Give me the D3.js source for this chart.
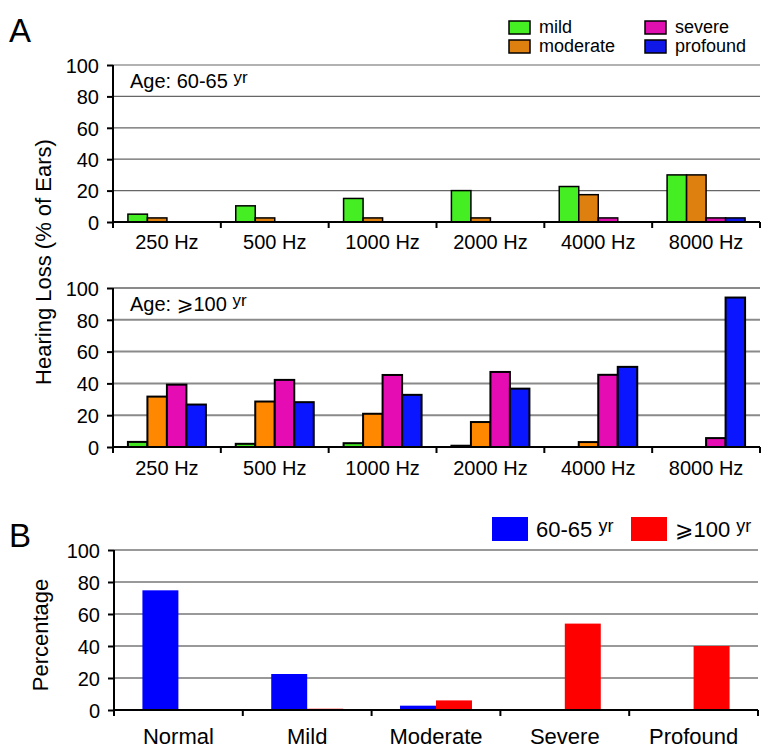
<!DOCTYPE html>
<html>
<head>
<meta charset="utf-8">
<script src="https://d3js.org/d3.v7.min.js"></script>
<style>
  body { margin: 0; background: #fff; }
  svg text { font-family: "Liberation Sans", Arial, Helvetica, "DejaVu Sans", sans-serif; fill: #000; }
</style>
</head>
<body>
<svg id="fig" width="768" height="755"></svg>
<script>
// ---- data ----
var freqs = ['250 Hz', '500 Hz', '1000 Hz', '2000 Hz', '4000 Hz', '8000 Hz'];
var grades = ['mild', 'moderate', 'severe', 'profound'];

// panel A, age 60-65 yr (% of ears)
var mild60     = [5, 10.3, 15, 20, 22.6, 30];
var moderate60 = [2.6, 2.6, 2.6, 2.6, 17.4, 30];
var severe60   = [0, 0, 0, 0, 2.6, 2.6];
var profound60 = [0, 0, 0, 0, 0, 2.6];

// panel A, age >=100 yr
var mild100     = [3.2, 2, 2.4, 0.8, 0, 0];
var moderate100 = [31.7, 28.6, 20.9, 15.7, 3.1, 0];
var severe100   = [39.2, 42.2, 45.3, 47.2, 45.4, 5.6];
var profound100 = [26.7, 28.2, 32.8, 36.7, 50.4, 94];

// panel B
var levels  = ['Normal', 'Mild', 'Moderate', 'Severe', 'Profound'];
var groupsB = ['60-65 yr', '100 yr'];
var pct60   = [74.8, 22.5, 2.7, 0, 0];
var pct100  = [0, 0.8, 6, 54, 40];

var yTicks = [0, 20, 40, 60, 80, 100];

var svg = d3.select('#fig');

function rows(cols, keys) {
  // build [{i, key, value}] from the named arrays
  var out = [];
  for (var i = 0; i < cols[0].length; i++) {
    for (var k = 0; k < keys.length; k++) {
      out.push({i: i, key: keys[k], value: cols[k][i]});
    }
  }
  return out;
}

function drawChart(opt) {
  var g = svg.append('g');
  var x0 = d3.scaleBand().domain(opt.cats).range([opt.left, opt.right]);
  var x1 = d3.scaleBand().domain(opt.keys).range([0, x0.bandwidth()]).paddingOuter(opt.outer);
  var y = d3.scaleLinear().domain([0, 100]).range([opt.bottom, opt.top]);

  // gridlines
  g.selectAll('line.grid').data(yTicks.slice(1)).enter().append('line')
    .attr('x1', opt.left).attr('x2', opt.right)
    .attr('y1', function(d){ return y(d); }).attr('y2', function(d){ return y(d); })
    .attr('stroke', opt.gridColor).attr('stroke-width', opt.gridWidth);

  // bars
  var data = rows(opt.values, opt.keys).filter(function(d){ return d.value > 0; });
  g.selectAll('rect.bar').data(data).enter().append('rect')
    .attr('x', function(d){ return x0(opt.cats[d.i]) + x1(d.key); })
    .attr('width', x1.bandwidth())
    .attr('y', function(d){ return y(d.value); })
    .attr('height', function(d){ return y(0) - y(d.value); })
    .attr('fill', function(d){ return opt.colors[d.key]; })
    .attr('stroke', opt.stroke ? '#000' : 'none')
    .attr('stroke-width', opt.stroke || 0);

  // y axis
  var ya = g.append('g').attr('transform', 'translate(' + opt.left + ',0)')
    .call(d3.axisLeft(y).tickValues(yTicks).tickSize(6).tickPadding(8));
  ya.select('.domain').attr('stroke', '#000').attr('stroke-width', 2)
    .attr('d', 'M0,' + y(100) + 'V' + y(0));
  ya.selectAll('.tick line').attr('stroke', '#000').attr('stroke-width', 2);
  ya.selectAll('.tick text').style('font-size', '20px').attr('dy', '0.36em');

  // x axis: labels at band centres, ticks at band edges
  var xa = g.append('g').attr('transform', 'translate(0,' + opt.bottom + ')')
    .call(d3.axisBottom(x0).tickSize(0).tickPadding(opt.labelPad));
  xa.select('.domain').remove();
  xa.selectAll('.tick text').style('font-size', opt.labelSize + 'px');
  var edges = opt.cats.map(function(c){ return x0(c); }).concat([opt.right]);
  g.append('line').attr('x1', opt.left - 1).attr('x2', opt.right)
    .attr('y1', opt.bottom).attr('y2', opt.bottom)
    .attr('stroke', '#000').attr('stroke-width', 2);
  g.selectAll('line.edge').data(edges).enter().append('line')
    .attr('x1', function(d){ return d; }).attr('x2', function(d){ return d; })
    .attr('y1', opt.bottom).attr('y2', opt.bottom + 6)
    .attr('stroke', '#000').attr('stroke-width', 2);
  return g;
}

var colTop = {mild: '#44ee22', moderate: '#dd8010', severe: '#e010b0', profound: '#1018e8'};
var colBot = {mild: '#44e422', moderate: '#ff8800', severe: '#e60cb4', profound: '#0a16ff'};

drawChart({
  cats: freqs, keys: grades,
  values: [mild60, moderate60, severe60, profound60],
  left: 113, right: 760, top: 65, bottom: 222, outer: 0.765,
  colors: colTop, stroke: 1.5, gridColor: '#666', gridWidth: 1.2,
  labelPad: 13, labelSize: 20
});
drawChart({
  cats: freqs, keys: grades,
  values: [mild100, moderate100, severe100, profound100],
  left: 113, right: 760, top: 288, bottom: 447, outer: 0.765,
  colors: colBot, stroke: 2, gridColor: '#8a8a8a', gridWidth: 2,
  labelPad: 14, labelSize: 20
});
drawChart({
  cats: levels, keys: groupsB,
  values: [pct60, pct100],
  left: 114, right: 758, top: 550, bottom: 710, outer: 0.79,
  colors: {'60-65 yr': '#0000ff', '100 yr': '#ff0000'}, stroke: 0,
  gridColor: '#777', gridWidth: 1.5,
  labelPad: 18, labelSize: 22
});

// panel letters
svg.append('text').attr('x', 9).attr('y', 42).style('font-size', '33px').text('A');
svg.append('text').attr('x', 9).attr('y', 547).style('font-size', '33px').text('B');

// y axis titles
svg.append('text').attr('transform', 'translate(51,262) rotate(-90)')
  .attr('text-anchor', 'middle').style('font-size', '22px').text('Hearing Loss (% of Ears)');
svg.append('text').attr('transform', 'translate(48,635) rotate(-90)')
  .attr('text-anchor', 'middle').style('font-size', '22px').text('Percentage');

// age labels inside panel A
function ageLabel(x, y, txt) {
  var t = svg.append('text').attr('x', x).attr('y', y).style('font-size', '20px');
  t.append('tspan').text(txt + ' ');
  t.append('tspan').attr('dy', -5).style('font-size', '17px').text('yr');
}
ageLabel(130, 88, 'Age: 60-65');
ageLabel(130, 311, 'Age: \u2A7E100');

// legend A
var legA = [
  {key: 'mild', x: 509, y: 21},
  {key: 'moderate', x: 509, y: 40},
  {key: 'severe', x: 645, y: 21},
  {key: 'profound', x: 645, y: 40}
];
var la = svg.append('g');
la.selectAll('rect').data(legA).enter().append('rect')
  .attr('x', function(d){ return d.x; }).attr('y', function(d){ return d.y; })
  .attr('width', 21).attr('height', 13)
  .attr('fill', function(d){ return colTop[d.key]; })
  .attr('stroke', '#000').attr('stroke-width', 1.5);
la.selectAll('text').data(legA).enter().append('text')
  .attr('x', function(d){ return d.x + 30; }).attr('y', function(d){ return d.y + 12; })
  .style('font-size', '18px').text(function(d){ return d.key; });

// legend B
var legB = [
  {txt: '60-65', x: 492, c: '#0000ff'},
  {txt: '\u2A7E100', x: 631, c: '#ff0000'}
];
var lb = svg.append('g');
lb.selectAll('rect').data(legB).enter().append('rect')
  .attr('x', function(d){ return d.x; }).attr('y', 517)
  .attr('width', 36).attr('height', 24).attr('fill', function(d){ return d.c; });
legB.forEach(function(d) {
  var t = lb.append('text').attr('x', d.x + 44).attr('y', 537).style('font-size', '22px');
  t.append('tspan').text(d.txt + ' ');
  t.append('tspan').attr('dy', -5).style('font-size', '18px').text('yr');
});
</script>
</body>
</html>
